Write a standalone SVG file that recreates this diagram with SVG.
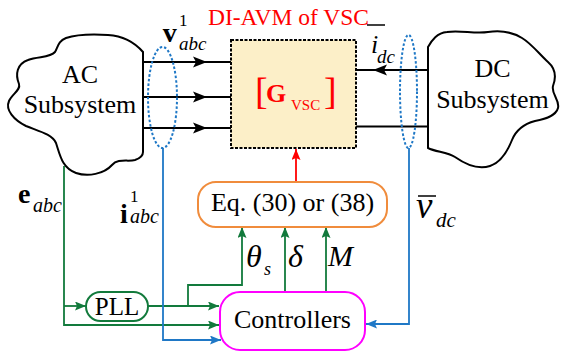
<svg xmlns="http://www.w3.org/2000/svg" width="561" height="355" viewBox="0 0 561 355">
<style>
text{font-family:"Liberation Serif","Times New Roman",serif;fill:#000}
.t26{font-size:26px}
.red{fill:#ff0000}
.it{font-style:italic}
.bd{font-weight:bold}
.blk{stroke:#000;stroke-width:2;fill:none}
.grn{stroke:#127a3c;stroke-width:1.8;fill:none}
.blu{stroke:#1f78c6;stroke-width:1.8;fill:none}
.dot{stroke:#1f78c6;stroke-width:2;fill:none;stroke-dasharray:2.5 2}
</style>
<defs>
<marker id="ab" markerUnits="userSpaceOnUse" markerWidth="14" markerHeight="12" viewBox="0 0 14 12" refX="14" refY="6" orient="auto"><path d="M0,0.5 L14,6 L0,11.5 L3,6 Z" fill="#000"/></marker>
<marker id="ag" markerUnits="userSpaceOnUse" markerWidth="11" markerHeight="9" viewBox="0 0 11 9" refX="11" refY="4.5" orient="auto"><path d="M0,0 L11,4.5 L0,9 L2,4.5 Z" fill="#127a3c"/></marker>
<marker id="au" markerUnits="userSpaceOnUse" markerWidth="11" markerHeight="9" viewBox="0 0 11 9" refX="11" refY="4.5" orient="auto"><path d="M0,0 L11,4.5 L0,9 L2,4.5 Z" fill="#1f78c6"/></marker>
<marker id="ar" markerUnits="userSpaceOnUse" markerWidth="11" markerHeight="9" viewBox="0 0 11 9" refX="11" refY="4.5" orient="auto"><path d="M0,0 L11,4.5 L0,9 L2,4.5 Z" fill="#ff0000"/></marker>
</defs>

<text x="208" y="25" class="red" style="font-size:23.5px">DI-AVM of VSC</text>

<g id="connectors">
<path class="blk" d="M143,62 H207" marker-end="url(#ab)"/><path class="blk" d="M205,62 H231"/>
<path class="blk" d="M143,97 H207" marker-end="url(#ab)"/><path class="blk" d="M205,97 H231"/>
<path class="blk" d="M143,128 H207" marker-end="url(#ab)"/><path class="blk" d="M205,128 H231"/>
<path class="blk" d="M428,70 H373" marker-end="url(#ab)"/><path class="blk" d="M375,70 H356"/>
<path class="blk" d="M356,126.5 H428"/>
<path stroke="#ff0000" stroke-width="1.8" fill="none" d="M296,182 V149" marker-end="url(#ar)"/>
<path class="grn" d="M64,166 V325 H219" marker-end="url(#ag)"/>
<path class="grn" d="M64,306 H86" marker-end="url(#ag)"/>
<path class="grn" d="M148,306 H219" marker-end="url(#ag)"/>
<path class="grn" d="M188,306 V285 H242 V227" marker-end="url(#ag)"/>
<path class="grn" d="M285,292 V227" marker-end="url(#ag)"/>
<path class="grn" d="M326,292 V227" marker-end="url(#ag)"/>
<path class="blu" d="M163,148 V340 H221" marker-end="url(#au)"/>
<path class="blu" d="M409,148 V324 H366" marker-end="url(#au)"/>
<ellipse class="dot" cx="162.5" cy="97.5" rx="14.5" ry="50.5"/>
<ellipse class="dot" cx="408.5" cy="91.5" rx="8.5" ry="56.5"/>
</g>

<g id="ac">
<path class="blk" d="M143,52 C136,44 125,36 108,35 C92,34 78,34 66,38 C58,41 58,47 55,52 C50,58 38,56 28,60 C17,64 15,74 19,84 C21,90 12,94 9,101 C5,110 14,120 26,126 C38,131 52,134 56,143 C60,155 62,168 76,173 C88,177 104,174 112,165 C118,158 128,162 135,160 C141,158 143,155 143,152 Z"/>
<text x="80" y="83" class="t26" text-anchor="middle">AC</text>
<text x="80" y="113" class="t26" text-anchor="middle">Subsystem</text>
</g>

<g id="dc">
<path class="blk" d="M428,47 C432,40 437,33 447,32 C460,30 475,34 488,32 C500,30 512,32 522,38 C532,44 540,55 548,62 C556,69 556,78 553,86 C551,94 560,100 558,108 C556,116 545,119 535,121 C524,124 516,130 512,140 C508,150 502,162 490,166 C478,170 465,164 455,157 C447,152 436,152 428,148 Z"/>
<text x="492.5" y="77" class="t26" text-anchor="middle">DC</text>
<text x="492.5" y="108" class="t26" text-anchor="middle">Subsystem</text>
</g>

<g id="vsc">
<rect x="231" y="40" width="125" height="108" fill="#fcefc8" stroke="#000" stroke-width="2" stroke-dasharray="3 1.5"/>
<text x="255" y="104" class="red" style="font-size:38px">[</text>
<text x="266" y="102" class="red bd" style="font-size:26px">G</text>
<text x="291" y="110" class="red" style="font-size:15px">VSC</text>
<text x="324" y="104" class="red" style="font-size:38px">]</text>
</g>

<g id="eq">
<rect x="198" y="182" width="189" height="45" rx="18" fill="#fff" stroke="#f08c3c" stroke-width="2"/>
<text x="292.5" y="211" class="t26" text-anchor="middle">Eq. (30) or (38)</text>
</g>

<g id="pll">
<rect x="86" y="292" width="62" height="29" rx="14.5" fill="#fff" stroke="#127a3c" stroke-width="2"/>
<text x="117" y="315" text-anchor="middle" style="font-size:25px">PLL</text>
</g>

<g id="controllers">
<rect x="220" y="292" width="145" height="58" rx="20" fill="#fff" stroke="#ff00ff" stroke-width="2"/>
<text x="292.5" y="328" class="t26" text-anchor="middle">Controllers</text>
</g>

<g id="labels">
<text x="162.7" y="42" class="bd" style="font-size:28px">v</text>
<text x="179" y="26" style="font-size:17px">1</text>
<text x="179" y="50" class="it" style="font-size:19px">abc</text>
<path d="M367,25 H385" stroke="#000" stroke-width="1.5"/>
<text x="371" y="53" class="it" style="font-size:26px">i</text>
<text x="377" y="63" class="it" style="font-size:19px">dc</text>
<text x="18" y="203" class="bd" style="font-size:28px">e</text>
<text x="33" y="212" class="it" style="font-size:20px">abc</text>
<text x="120" y="223" class="bd" style="font-size:28px">i</text>
<text x="130" y="202" style="font-size:17px">1</text>
<text x="130" y="223" class="it" style="font-size:20px">abc</text>
<path d="M418,196 H436" stroke="#000" stroke-width="1.5"/>
<text x="416" y="218" class="it" style="font-size:37px">v</text>
<text x="436" y="227" class="it" style="font-size:21px">dc</text>
<text x="246" y="267" class="it" style="font-size:32px">θ</text>
<text x="264" y="275" class="it" style="font-size:18px">s</text>
<text x="288" y="267" class="it" style="font-size:32px">δ</text>
<text x="328" y="266" class="it" style="font-size:30px">M</text>
</g>
</svg>
